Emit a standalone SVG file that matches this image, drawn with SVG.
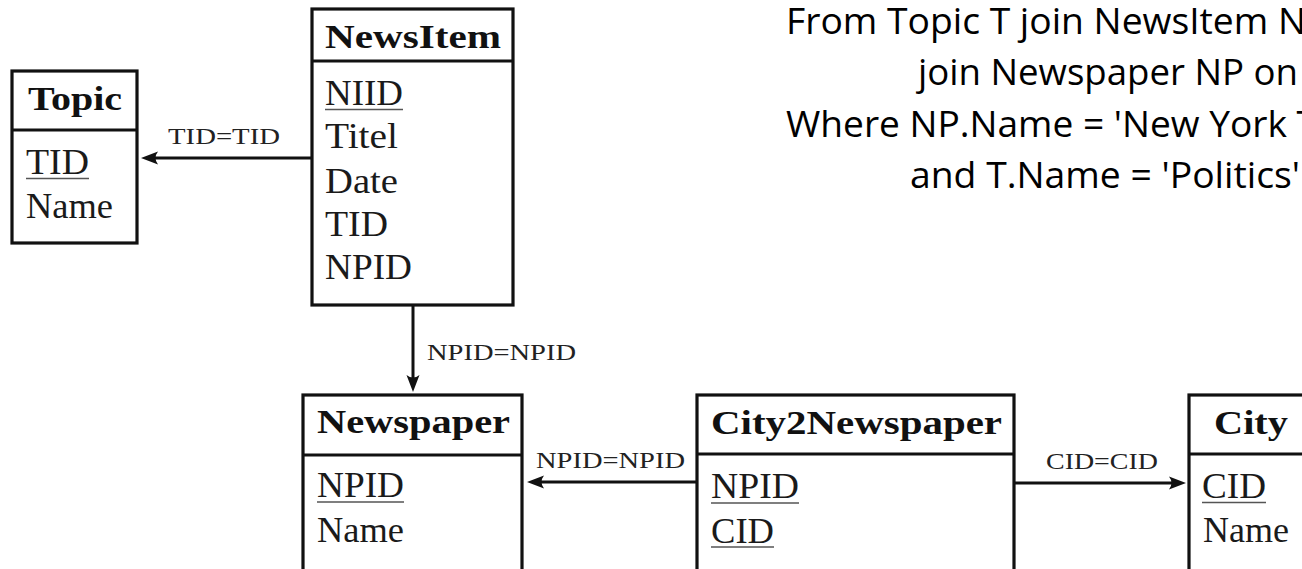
<svg xmlns="http://www.w3.org/2000/svg" width="1302" height="569" viewBox="0 0 1302 569">
<style>
.box{fill:#fff;stroke:#111;stroke-width:3.2}
.div{stroke:#111;stroke-width:3.2}
.hd{font-family:"Liberation Serif",serif;font-weight:bold;font-size:33px;fill:#111}
.fd{font-family:"Liberation Serif",serif;font-size:35px;fill:#1a1a1a}
.ul{stroke:#555;stroke-width:1.5}
.cn{stroke:#111;stroke-width:3;fill:none}
.lb{font-family:"Liberation Serif",serif;font-size:23px;fill:#222}
.q{font-family:"Open Sans","Noto Sans",sans-serif;font-size:36px;fill:#000}
</style>
<defs>
<marker id="arr" viewBox="-19 -9 21 18" refX="-10" refY="0" markerWidth="21" markerHeight="18" markerUnits="userSpaceOnUse" orient="auto">
<path d="M0,0 L-17,-6.5 Q-12,0 -17,6.5 Z" fill="#111"/>
</marker>
</defs>
<rect width="1302" height="569" fill="#fff"/>

<g id="node-topic">
<rect class="box" x="12" y="71" width="125" height="172"/>
<line class="div" x1="12" y1="130" x2="137" y2="130"/>
<text class="hd" x="28" y="110" textLength="94" lengthAdjust="spacingAndGlyphs">Topic</text>
<text class="fd" x="26" y="174" textLength="63" lengthAdjust="spacingAndGlyphs">TID</text>
<line class="ul" x1="26" y1="178.5" x2="89" y2="178.5"/>
<text class="fd" x="26" y="218" textLength="87" lengthAdjust="spacingAndGlyphs">Name</text>
</g>

<g id="node-newsitem">
<rect class="box" x="312" y="9" width="201" height="296"/>
<line class="div" x1="312" y1="61" x2="513" y2="61"/>
<text class="hd" x="325" y="48" textLength="176" lengthAdjust="spacingAndGlyphs">NewsItem</text>
<text class="fd" x="325" y="105" textLength="78" lengthAdjust="spacingAndGlyphs">NIID</text>
<line class="ul" x1="325" y1="109.5" x2="403" y2="109.5"/>
<text class="fd" x="325" y="148" textLength="73" lengthAdjust="spacingAndGlyphs">Titel</text>
<text class="fd" x="325" y="193" textLength="73" lengthAdjust="spacingAndGlyphs">Date</text>
<text class="fd" x="325" y="236" textLength="63" lengthAdjust="spacingAndGlyphs">TID</text>
<text class="fd" x="325" y="279" textLength="87" lengthAdjust="spacingAndGlyphs">NPID</text>
</g>

<g id="node-newspaper">
<rect class="box" x="303" y="395" width="219" height="180"/>
<line class="div" x1="303" y1="455" x2="522" y2="455"/>
<text class="hd" x="317" y="433" textLength="193" lengthAdjust="spacingAndGlyphs">Newspaper</text>
<text class="fd" x="317" y="497" textLength="87" lengthAdjust="spacingAndGlyphs">NPID</text>
<line class="ul" x1="317" y1="502" x2="404" y2="502"/>
<text class="fd" x="317" y="542" textLength="87" lengthAdjust="spacingAndGlyphs">Name</text>
</g>

<g id="node-city2newspaper">
<rect class="box" x="697" y="395" width="317" height="180"/>
<line class="div" x1="697" y1="454" x2="1014" y2="454"/>
<text class="hd" x="711" y="434" textLength="291" lengthAdjust="spacingAndGlyphs">City2Newspaper</text>
<text class="fd" x="711" y="498" textLength="88" lengthAdjust="spacingAndGlyphs">NPID</text>
<line class="ul" x1="711" y1="503" x2="799" y2="503"/>
<text class="fd" x="711" y="543" textLength="63" lengthAdjust="spacingAndGlyphs">CID</text>
<line class="ul" x1="711" y1="547" x2="774" y2="547"/>
</g>

<g id="node-city">
<rect class="box" x="1189" y="395" width="130" height="180"/>
<line class="div" x1="1189" y1="454" x2="1319" y2="454"/>
<text class="hd" x="1214" y="434" textLength="74" lengthAdjust="spacingAndGlyphs">City</text>
<text class="fd" x="1202" y="498" textLength="64" lengthAdjust="spacingAndGlyphs">CID</text>
<line class="ul" x1="1202" y1="502.5" x2="1266" y2="502.5"/>
<text class="fd" x="1203" y="542" textLength="86" lengthAdjust="spacingAndGlyphs">Name</text>
</g>

<g id="connectors">
<line class="cn" x1="312" y1="158" x2="151" y2="158" marker-end="url(#arr)"/>
<text class="lb" x="168" y="144" textLength="112" lengthAdjust="spacingAndGlyphs">TID=TID</text>
<line class="cn" x1="413" y1="305" x2="413" y2="382" marker-end="url(#arr)"/>
<text class="lb" x="427" y="360" textLength="149" lengthAdjust="spacingAndGlyphs">NPID=NPID</text>
<line class="cn" x1="697" y1="482" x2="537" y2="482" marker-end="url(#arr)"/>
<text class="lb" x="536" y="468" textLength="149" lengthAdjust="spacingAndGlyphs">NPID=NPID</text>
<line class="cn" x1="1014" y1="483" x2="1176" y2="483" marker-end="url(#arr)"/>
<text class="lb" x="1046" y="469" textLength="112" lengthAdjust="spacingAndGlyphs">CID=CID</text>
</g>

<g id="query">
<text class="q" x="786" y="34" textLength="520" lengthAdjust="spacingAndGlyphs">From Topic T join NewsItem N</text>
<text class="q" x="918" y="85" textLength="380" lengthAdjust="spacingAndGlyphs">join Newspaper NP on</text>
<text class="q" x="786" y="137" textLength="531" lengthAdjust="spacingAndGlyphs">Where NP.Name = 'New York T</text>
<text class="q" x="910" y="188" textLength="390" lengthAdjust="spacingAndGlyphs">and T.Name = 'Politics'</text>
</g>
</svg>
